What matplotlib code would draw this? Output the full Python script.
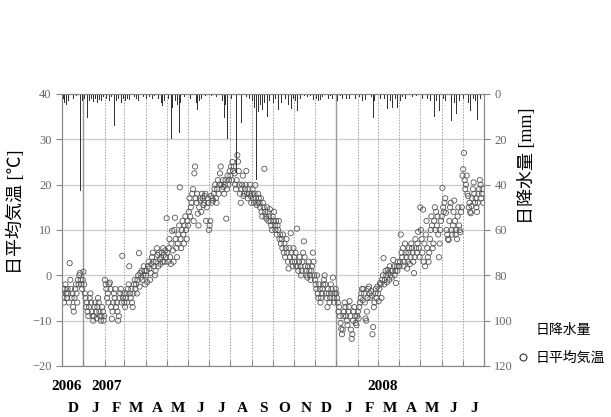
import matplotlib
matplotlib.use("Agg")
import matplotlib.pyplot as plt
import matplotlib.dates as mdates
import matplotlib.transforms as mtransforms
from matplotlib.lines import Line2D
import numpy as np
import pandas as pd

# daily mean temperature [deg C], Dec 2006 - Jul 2008
t_dec06 = [-4, -3, -5, -6, -3, -2, -4, -5, -3, -4, -6, 2.7, -1, -3, -5, -4, -7, -8, -5, -3,
           -2, -4, -6, -1, -2, 0, 0.5, -1, -2, -3, -1]
t_jan07 = [0.8, -2, -4, -5, -7, -6, -8, -9, -7, -5, -4, -6, -8, -9, -10, -9, -7, -6, -8, -9.5,
           -7, -5, -6, -8, -9, -10, -9, -7, -8, -10, -9]
t_feb07 = [-1, -2, -3, -5, -4, -6, -2, -1.6, -3, -7, -9.6, -8, -6, -4, -5, -3, -7, -6, -8, -10,
           -9, -5, -4, -3, -6, 4.3, -5, -4]
t_mar07 = [-6, -7, -5, -4, -6, -3, -2, 2, -4, -5, -3, -6, -7, -4, -2, -1, -3, -2, -4, -1,
           0, 4.9, -2.5, 0.5, -0.5, 1, -1, 0, 2, 1, -2]
t_apr07 = [0, 1, -1.5, 2, 3, 1.5, -1, 0.5, 2.5, 4, 5, 3, 2, 0, 1, 3, 6, 4.5, 2, 5,
           3.5, 2.5, 4, 5, 3, 6, 4.5, 3, 5.5, 4]
t_may07 = [12.6, 5, 3, 6, 8, 4, 2.5, 7, 9.8, 5.5, 3, 10, 12.7, 8, 6, 4, 7, 9, 11, 19.4,
           8, 6, 10, 12, 9, 7, 11, 13, 10, 8, 12]
t_jun07 = [11, 14, 17, 13, 15, 16, 18, 19, 12, 22.5, 24, 17, 16, 18, 13.6, 11, 15, 17, 16.5, 14,
           18, 17, 15.5, 16, 17.5, 18, 12, 15, 17, 16]
t_jul07 = [10, 11, 12, 17.5, 16, 17, 16.5, 18, 19, 20, 17, 16, 19, 21, 18, 20, 22.5, 24, 20, 19,
           21, 19.5, 18, 20, 21, 12.5, 19, 22, 20, 21, 23]
t_aug07 = [22, 24, 21, 25, 23, 24, 22.5, 20, 19, 21, 26.5, 25.1, 23, 20, 18, 16, 19, 20, 22, 17.5,
           18, 19, 20, 23, 18, 17, 19, 18, 20, 17.5, 16]
t_sep07 = [18, 19, 17, 16, 18, 19.9, 17, 15.5, 16, 18, 17, 16, 15, 17, 14, 13, 16, 15, 23.5, 14,
           13, 12.5, 15, 14, 12, 13, 14.6, 12, 11, 10]
t_oct07 = [13, 12, 14, 11, 10, 12, 9, 11, 10, 12, 8, 9, 7, 8, 6, 9, 5, 7, 4, 6,
           8, 5, 3, 1.5, 6, 4, 9.3, 5, 3, 2, 6]
t_nov07 = [4, 3, 5, 2, 10.3, 2, 1, 3, 4, 2, 0, 1, 3, 5, 7.5, 4, 2, 1, 0, -0.5,
           2, 3, 1, 0, -1, 1, 2, 5, 3, 0]
t_dec07 = [-1, -2, -3, 0, -4, -5, -2, -3, -6, -5, -4, -3, -2, -1, 0, -2, -4, -5, -7, -3,
           -4, -6, -5, -2, -3, -4, -0.5, -5, -6, -4, -3]
t_jan08 = [-4, -5, -6, -8, -7, -9, -10.5, -11.8, -13, -12, -9, -8, -6, -7, -9, -10, -11, -8, -7, -5.7,
           -9, -12, -14, -13, -10, -8, -7, -9, -10.5, -11, -9]
t_feb08 = [-8, -9.5, -7, -6, -5, -4, -3, -5.5, -3, -4, -6, -9.5, -10, -8, -5, -3, -2.5, -4, -5, -3.5,
           -4.5, -13, -11.4, -7, -6, -4, -3, -5, -2.5]
t_mar08 = [-4, -5.7, -3, -1.7, -2, -5, -1, 0, 3.8, -2, -1, 1, 0, -1.5, 1.2, 0.5, -1, 2, 0, 1,
           -0.5, 1, 3.4, 2, 0, 1, -1.7, 2, 1, 3, 2]
t_apr08 = [2, 3, 9, 5, 4, 6, 2, 3, 7, 5, 4, 1.5, 3, 5, 6, 2.5, 4, 7, 6, 5,
           3, 0.5, 4, 8, 6, 5, 7, 9.6, 6, 4]
t_may08 = [15, 10, 8, 5, 14.5, 3, 7, 2, 9, 12, 6, 4, 3, 5, 8, 10, 13, 11, 6, 7,
           12, 15, 10, 14, 11, 13, 9, 4, 7, 10, 12]
t_jun08 = [13, 19.3, 15, 14, 16, 17, 13.8, 10, 9, 8, 7.8, 12, 15, 16, 10, 9, 11, 14, 16.5, 12,
           9, 10, 8, 13, 15, 11, 10, 9.5, 14, 15]
t_jul08 = [22, 23.4, 27, 21, 19, 20, 22, 18, 17.5, 15, 16, 14, 13.7, 15.3, 17, 19, 20.5, 18, 16, 17,
           15, 14, 16, 18, 19, 21, 20, 17, 18, 19, 16]

temp = (t_dec06 + t_jan07 + t_feb07 + t_mar07 + t_apr07 + t_may07 + t_jun07 + t_jul07
        + t_aug07 + t_sep07 + t_oct07 + t_nov07 + t_dec07 + t_jan08 + t_feb08 + t_mar08
        + t_apr08 + t_may08 + t_jun08 + t_jul08)
days = pd.date_range("2006-12-01", periods=len(temp), freq="D")

# daily precipitation [mm]
rain_dates = [
    "2006-12-03", "2006-12-05", "2006-12-07", "2006-12-10", "2006-12-14", "2006-12-18", "2006-12-22", "2006-12-28", "2006-12-30",
    "2007-01-03", "2007-01-07", "2007-01-10", "2007-01-12", "2007-01-15", "2007-01-18", "2007-01-21", "2007-01-24", "2007-01-27", "2007-01-30",
    "2007-02-03", "2007-02-07", "2007-02-10", "2007-02-15", "2007-02-18", "2007-02-21", "2007-02-25", "2007-02-28",
    "2007-03-03", "2007-03-06", "2007-03-09", "2007-03-12", "2007-03-15", "2007-03-18", "2007-03-22", "2007-03-25", "2007-03-29",
    "2007-04-02", "2007-04-06", "2007-04-10", "2007-04-14", "2007-04-19", "2007-04-23", "2007-04-25", "2007-04-28",
    "2007-05-04", "2007-05-08", "2007-05-09", "2007-05-14", "2007-05-17", "2007-05-20", "2007-05-21", "2007-05-27",
    "2007-06-05", "2007-06-13", "2007-06-15", "2007-06-17", "2007-06-20", "2007-06-26",
    "2007-07-05", "2007-07-12", "2007-07-20", "2007-07-23", "2007-07-25", "2007-07-28", "2007-07-30",
    "2007-08-03", "2007-08-10", "2007-08-12", "2007-08-17", "2007-08-24", "2007-08-29",
    "2007-09-02", "2007-09-05", "2007-09-08", "2007-09-10", "2007-09-13", "2007-09-16", "2007-09-19", "2007-09-24", "2007-09-27",
    "2007-10-02", "2007-10-05", "2007-10-09", "2007-10-14", "2007-10-20", "2007-10-24", "2007-10-28", "2007-10-31",
    "2007-11-03", "2007-11-06", "2007-11-10", "2007-11-16", "2007-11-20", "2007-11-25", "2007-11-29",
    "2007-12-03", "2007-12-06", "2007-12-09", "2007-12-12", "2007-12-17", "2007-12-20", "2007-12-23", "2007-12-27",
    "2008-01-03", "2008-01-07", "2008-01-10", "2008-01-15", "2008-01-20", "2008-01-25", "2008-01-29",
    "2008-02-03", "2008-02-08", "2008-02-12", "2008-02-17", "2008-02-20", "2008-02-23", "2008-02-25",
    "2008-03-01", "2008-03-05", "2008-03-10", "2008-03-15", "2008-03-19", "2008-03-22", "2008-03-26", "2008-03-29",
    "2008-04-02", "2008-04-06", "2008-04-10", "2008-04-20", "2008-04-25",
    "2008-05-04", "2008-05-11", "2008-05-16", "2008-05-18", "2008-05-22", "2008-05-25", "2008-05-29",
    "2008-06-03", "2008-06-06", "2008-06-10", "2008-06-13", "2008-06-15", "2008-06-19", "2008-06-22", "2008-06-26",
    "2008-07-02", "2008-07-06", "2008-07-10", "2008-07-13", "2008-07-17", "2008-07-20", "2008-07-23", "2008-07-27",
]
rain_mm = [
    2, 4, 5, 3, 1.5, 2, 1, 43, 3,
    2, 10.5, 3, 2, 3.5, 2, 4, 2.5, 3, 1.5,
    2, 3, 1.5, 14, 3, 2, 4, 2,
    3, 2, 2.5, 3, 1.5, 2, 3, 2, 1.5,
    2, 1.5, 2, 1, 2, 4, 5.5, 3,
    2, 20, 6, 3, 5, 17, 4, 1.5,
    2, 4, 7, 3, 2, 1,
    1, 1.5, 3, 10.5, 5, 20, 6,
    2, 35, 4, 13, 1.5, 2,
    3, 6, 38, 8, 5, 7, 4, 10, 3,
    4, 2, 7, 4, 2, 5, 6.5, 2,
    3, 7.5, 2, 1, 1.5, 1, 2.5,
    2, 3, 2.5, 1.5, 3, 2, 1, 2,
    3, 1, 2, 2, 2, 1.5, 2,
    1.5, 3, 2.5, 1, 1.5, 10.5, 3,
    4.5, 2, 2, 6.5, 3, 6, 2, 6,
    3, 1.5, 2, 1.5, 1,
    2, 2, 3, 4.5, 10, 3, 7.5,
    2, 3, 7, 3, 12, 4, 9, 3,
    2, 3, 4, 7.5, 2, 3, 11.5, 2,
]
rain_days = pd.to_datetime(rain_dates)

month_letters = ["D", "J", "F", "M", "A", "M", "J", "J", "A", "S", "O", "N",
                 "D", "J", "F", "M", "A", "M", "J", "J"]
year_labels = ["2006", "2007", "2008"]

plt.rcParams["font.family"] = ["Liberation Serif", "Noto Sans CJK JP"]
jp = ["Noto Sans CJK JP", "DejaVu Sans"]

fig = plt.figure(figsize=(6.11, 4.17), dpi=100)
ax = fig.add_axes([62 / 611, 1 - 366 / 417, 422 / 611, 272 / 417])
ax2 = ax.twinx()

x0 = pd.Timestamp("2006-12-01")
x1 = pd.Timestamp("2008-08-01")
month_starts = pd.date_range(x0, x1, freq="MS")

# grid
for v in range(-20, 41, 10):
    ax.axhline(v, color="#cccccc", lw=0.9, zorder=0)
for m in month_starts[1:-1]:
    if m.month == 1:
        ax.axvline(m, color="#999999", lw=1.0, zorder=0)
    else:
        ax.axvline(m, color="#a0a0a0", lw=0.7, ls=(0, (1.5, 1.5)), zorder=0)

ax.scatter(days, temp, s=14, facecolors="none", edgecolors="#555555", linewidths=0.6, zorder=2)
ax2.bar(rain_days, rain_mm, width=1.3, color="#333333", align="center", zorder=2)

ax.set_xlim(x0, x1)
ax.set_ylim(-20, 40)
ax.set_yticks(range(-20, 41, 10))
ax2.set_ylim(120, 0)
ax2.set_yticks(range(0, 121, 20))

ax.set_xticks(month_starts)
ax.set_xticklabels([])
ax.tick_params(axis="x", direction="in", length=4, color="#888888")
ax.tick_params(axis="y", direction="out", length=4, color="#888888", labelcolor="#666666", labelsize=9)
ax2.tick_params(axis="y", direction="out", length=4, color="#888888", labelcolor="#666666", labelsize=9)
for a in (ax, ax2):
    for s in a.spines.values():
        s.set_color("#888888")

# month / year labels under the axis
trans = mtransforms.blended_transform_factory(ax.transData, ax.transAxes)
for m, lab in zip(month_starts[:-1], month_letters):
    ax.text(m + pd.Timedelta(days=17), -0.155, lab, transform=trans, ha="center", va="center",
            fontsize=11, fontweight="bold")
year_pos = [pd.Timestamp("2006-12-08"), pd.Timestamp("2007-02-04"), pd.Timestamp("2008-03-07")]
for d, lab in zip(year_pos, year_labels):
    ax.text(d, -0.075, lab, transform=trans, ha="center", va="center", fontsize=11, fontweight="bold")

fig.text(16 / 611, 1 - 212 / 417, "日平均気温 [℃]", rotation=90, ha="center", va="center",
         fontsize=13, family=["Liberation Serif", "Noto Sans CJK JP"])
fig.text(527 / 611, 1 - 166 / 417, "日降水量 [mm]", rotation=90, ha="center", va="center",
         fontsize=13, family=["Liberation Serif", "Noto Sans CJK JP"])

handles = [Line2D([], [], lw=0),
           Line2D([], [], ls="none", marker="o", markersize=5, markerfacecolor="none",
                  markeredgecolor="#333333", markeredgewidth=0.8)]
fig.legend(handles, ["日降水量", "日平均気温"], loc="lower left",
           bbox_to_anchor=(506 / 611, 1 - 375 / 417), frameon=False,
           prop={"family": jp, "size": 10}, labelspacing=1.0, handlelength=1.0,
           handletextpad=0.4, borderpad=0.2)

fig.savefig("out.png", dpi=100)
